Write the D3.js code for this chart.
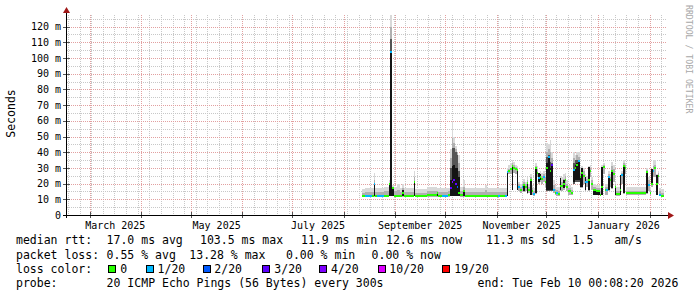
<!DOCTYPE html>
<html><head><meta charset="utf-8">
<script src="https://cdn.jsdelivr.net/npm/d3@7"></script>
<style>
body{margin:0;background:#fff}
svg{display:block}
text{font-family:"DejaVu Sans Mono",monospace;fill:#000}
</style>
</head><body>
<svg id="c" width="697" height="297"></svg>
<script>
// ---------------- data ----------------
const yTickValues = [0,10,20,30,40,50,60,70,80,90,100,110,120];
const yTickLabels = ["0","10 m","20 m","30 m","40 m","50 m","60 m","70 m","80 m","90 m","100 m","110 m","120 m"];
const yMinorValues = [5,15,25,35,45,55,65,75,85,95,105,115,125];
const xLabelMonths = ["2025-03","2025-05","2025-07","2025-09","2025-11","2026-01"];
const endTime = "2026-02-10 00:08:20";

const binStart = [
"2025-08-12","2025-08-14","2025-08-18","2025-08-19","2025-08-20","2025-08-21","2025-08-25","2025-08-28","2025-08-29","2025-08-30",
"2025-08-31","2025-09-02","2025-09-04","2025-09-05","2025-09-06","2025-09-12","2025-09-13","2025-09-20","2025-09-26","2025-09-27",
"2025-09-29","2025-10-03","2025-10-04","2025-10-05","2025-10-06","2025-10-07","2025-10-08","2025-10-09","2025-10-10","2025-10-12",
"2025-10-13","2025-10-25","2025-10-26","2025-11-02","2025-11-03","2025-11-06","2025-11-07","2025-11-08","2025-11-09","2025-11-10",
"2025-11-11","2025-11-12","2025-11-13","2025-11-14","2025-11-15","2025-11-16","2025-11-17","2025-11-18","2025-11-19","2025-11-20",
"2025-11-21","2025-11-22","2025-11-23","2025-11-24","2025-11-25","2025-11-26","2025-11-27","2025-11-28","2025-11-29","2025-11-30",
"2025-12-01","2025-12-02","2025-12-03","2025-12-04","2025-12-05","2025-12-06","2025-12-07","2025-12-08","2025-12-09","2025-12-10",
"2025-12-11","2025-12-12","2025-12-13","2025-12-14","2025-12-16","2025-12-17","2025-12-18","2025-12-19","2025-12-20","2025-12-21",
"2025-12-22","2025-12-23","2025-12-24","2025-12-25","2025-12-26","2025-12-27","2025-12-28","2025-12-29","2025-12-31","2026-01-02",
"2026-01-03","2026-01-04","2026-01-05","2026-01-06","2026-01-07","2026-01-08","2026-01-09","2026-01-10","2026-01-11","2026-01-12",
"2026-01-14","2026-01-15","2026-01-16","2026-01-17","2026-01-18","2026-01-30","2026-01-31","2026-02-01","2026-02-02","2026-02-03",
"2026-02-04","2026-02-05","2026-02-06","2026-02-07","2026-02-08"];

const medianMs = [
12.3,12.3,12.4,19.5,12.3,12.2,12.3,20,104,17,
12.4,12.4,12.4,14,12.3,21.2,12.3,12.5,14,12.3,
12.2,12.5,17,21,22,20,18,14,12.5,15.5,
12.4,12.4,12.4,12.3,12.3,12.4,27.6,28,29,31,
30,29,28.7,17.6,16,17.6,19.1,18,20.2,16,
22.3,15,13.4,29.7,27,23.4,24,22.7,24.4,21.2,
30,36.7,28,31.8,16,14,13.8,13.4,18.2,18.2,
20,22.3,18,15.3,14,28.7,30,32,34.6,24,
27,25,21.2,21.2,22,28.2,20,16,15.5,13,
18,30.8,16,16,24,22,28.2,26,17.6,13.4,
16,25.5,31.2,30,13.8,27.6,19.1,14,20,28.2,
29.7,20,24.9,13,12.2];

const lossCount = [
0,1,0,1,0,1,0,0,1,0,
0,0,0,0,0,0,0,0,0,0,
1,0,3,4,3,3,2,0,0,0,
0,0,0,1,0,1,1,0,0,0,
0,0,0,1,0,1,0,0,0,0,
0,0,1,0,0,1,0,0,1,0,
0,1,0,3,1,0,1,0,0,0,
0,0,0,0,0,1,0,0,1,0,
0,0,1,1,0,0,0,0,0,0,
0,0,0,1,1,0,0,0,0,0,
0,1,0,0,0,0,1,0,0,1,
0,0,0,1,0];

const smokeMin = [
11.6,11.6,11.7,11.7,11.6,11.6,11.6,11.8,11.8,11.8,
11.7,11.7,11.7,11.7,11.6,11.8,11.6,11.7,11.7,11.6,
11.6,11.7,11.8,11.8,11.8,11.8,11.8,11.8,11.7,11.7,
11.6,11.7,11.6,11.6,11.6,11.6,11.8,26,26,16,
27,26,16,15,14,15,14.5,15,13.5,14,
12.8,13,12,13.5,24,20,21,20,21,18,
15.5,15.5,15.5,15.5,14,12.5,12.3,12.2,15,15.5,
16,18,15,13,12.5,20,21,21,21,17,
17,20,15.5,18,15.5,24,16,12.5,12.5,12,
12.5,26,13,13,15.5,18,16.5,21,12.5,12.2,
12.5,20,13.5,26,12.5,13.5,15,12.5,18,24,
24,12.8,20,12,11.6];

const smokeMid = [
14,14.5,14.5,22,14.5,14.5,15,20.5,120,17.5,
15,16,14.5,17,14.5,24,14,15,15.5,14.5,
14.5,15,36,49,46,42,40,33,15,18,
14.5,16,14.5,14.5,14.5,14.5,28,29,30,33,
32,30.5,30,19.5,18,19.5,21,19.5,22,18,
24,17,15.5,31,29,25,26,25,26,24,
40,42,40,36,19,16.5,16,15.5,23,21,
23,25,20,17,16,36,35,38,37,27,
29,28,24,23,29,30,22,18,17,15,
26,32,18,18,26,24,31,29,19.5,15.5,
23,27,33,32,15.5,28.5,22,16,26,31,
32,24,26.5,15,14];

const smokeDeep = [
0,0,0,0,0,0,0,0,112,0,
0,0,0,0,0,0,0,0,0,0,
0,0,30,42.5,42.5,40,38,28,0,0,
0,0,0,0,0,0,0,0,0,0,
0,0,0,0,0,0,0,0,0,0,
0,0,0,0,0,0,0,0,0,0,
37,38,34,33,0,0,0,0,0,0,
0,0,0,0,0,33,35,35,35,0,
0,0,0,0,0,0,0,0,0,0,
0,0,0,0,0,0,0,0,0,0,
0,0,0,0,0,0,0,0,0,0,
0,0,0,0,0];

const smokeMax = [
16.5,17,17,26.6,17,17.5,18,22,127.5,19,
18,20,17,20,17,28,16.5,18,17,17.5,
17.5,17.5,42,60,50,44,40,38,18,22,
17.5,19,17.5,17.5,17.5,17.5,30,32,33,35,
34,32,31,21,20,21,23,21,24,20,
26,19,17,33,31,27,28,27,28,26,
45.6,45,47.8,40,22,19,18,18,25,24,
26,27,22,19,18,40.3,38,40.3,40,30,
31,30,26,25,31,32,24,20,19,17,
32,33,20,20,28,26,34,32,21,18,
25.5,28,35,33,17.6,30,24,18,29,35,
35,26,28,17,16.5];

const blackLo = [
0,0,0,11.8,0,0,0,12,12,12,
0,0,0,12,0,12,0,0,12,0,
0,0,12,12,12,12,12,12,0,12,
0,0,0,0,0,0,12,0,0,16,
0,0,16,0,0,0,15,0,14,0,
13,0,0,14,0,21,22,0,0,0,
16,16,16,16,0,0,0,0,16,0,
17,0,0,0,0,21,22,22,22,18,
18,0,16,0,16,0,0,13,13,0,
13,0,0,0,16,0,17,0,13,0,
13,0,14,0,0,14,0,0,19,0,
0,13,0,0,0];

const blackHi = [
0,0,0,19.5,0,0,0,20,104,17,
0,0,0,16,0,21.2,0,0,14.5,0,
0,0,22,31,32,30,30,24,0,15.5,
0,0,0,0,0,0,27.6,0,0,31,
0,0,28.7,0,0,0,19.1,0,20.2,0,
22.3,0,0,29.7,0,27,26,0,0,0,
33,36.7,30,31.8,0,0,0,0,23.4,0,
22,0,0,0,0,29,32,33,34.6,24,
29.7,0,24.4,0,30.8,0,0,16,15.5,0,
30.8,0,0,0,24.4,0,28.2,0,17.6,0,
25.5,0,31,0,0,27.6,0,0,29,0,
0,25.5,0,0,0];

const lossLevels = [0,1,2,3,4,10,19];
const lossLabels = ["0","1/20","2/20","3/20","4/20","10/20","19/20"];
const lossColors = ["#26ff00","#00b8ff","#0059ff","#5e00ff","#7e00ff","#dd00ff","#ff0000"];

const rttStats = ["17.0 ms avg","103.5 ms max","11.9 ms min","12.6 ms now","11.3 ms sd","1.5   am/s"];
const lossStats = ["0.55 % avg","13.28 % max","0.00 % min","0.00 % now"];
const probeText = "20 ICMP Echo Pings (56 Bytes) every 300s";
const endText = "end: Tue Feb 10 00:08:20 2026";

// ---------------- chart ----------------
const svg = d3.select("#c");
svg.append("rect").attr("width",697).attr("height",297).attr("fill","#fff");

const plotL = 67, plotR = 666, plotT = 15, plotB = 215;
const x = d3.scaleTime().domain([new Date(2025,2,1), new Date(2026,1,1)]).range([89.5,649.5]);
const y = d3.scaleLinear().domain([0,127.4]).range([plotB, plotT]);
const t0 = x.invert(plotL), t1 = x.invert(plotR);
const parseDay = d3.timeParse("%Y-%m-%d");
const parseEnd = d3.timeParse("%Y-%m-%d %H:%M:%S");
const parseMonth = d3.timeParse("%Y-%m");
const tEnd = parseEnd(endTime);

// grid
const grid = svg.append("g").attr("shape-rendering","crispEdges").attr("stroke-dasharray","1,1");
grid.selectAll(".hmin").data(yMinorValues.filter(v=>y(v)>=plotT)).join("line")
  .attr("x1",plotL).attr("x2",plotR).attr("y1",d=>Math.round(y(d))+0.5).attr("y2",d=>Math.round(y(d))+0.5)
  .attr("stroke","#c8c8c8");
grid.selectAll(".vmin").data(d3.timeSunday.range(t0,t1)).join("line")
  .attr("x1",d=>Math.round(x(d))+0.5).attr("x2",d=>Math.round(x(d))+0.5)
  .attr("y1",plotT).attr("y2",plotB).attr("stroke","#c8c8c8");
grid.selectAll(".hmaj").data(yTickValues.slice(1)).join("line")
  .attr("x1",plotL).attr("x2",plotR).attr("y1",d=>Math.round(y(d))+0.5).attr("y2",d=>Math.round(y(d))+0.5)
  .attr("stroke","#e2a0a0");
grid.selectAll(".vmaj").data(d3.timeMonth.range(t0,t1)).join("line")
  .attr("x1",d=>Math.round(x(d))+0.5).attr("x2",d=>Math.round(x(d))+0.5)
  .attr("y1",plotT).attr("y2",plotB).attr("stroke","#e2a0a0");

// data bins
const bins = binStart.map((s,i)=>{
  const a = parseDay(s);
  const b = i<binStart.length-1 ? parseDay(binStart[i+1]) : tEnd;
  let ci = 0; lossLevels.forEach((l,k)=>{ if(lossCount[i]>=l) ci=k; });
  return {x0:Math.round(x(a)), x1:Math.max(Math.round(x(b)),Math.round(x(a))+1),
    med:medianMs[i], col:lossColors[ci], lo:smokeMin[i], mid:smokeMid[i], deep:smokeDeep[i], hi:smokeMax[i],
    bLo:blackLo[i], bHi:blackHi[i]};
});
const dg = svg.append("g").attr("shape-rendering","crispEdges");
function band(cls, lo, hi, color){
  dg.selectAll("."+cls).data(bins.filter(d=>hi(d)>lo(d))).join("rect").attr("class",cls)
    .attr("x",d=>d.x0).attr("width",d=>d.x1-d.x0)
    .attr("y",d=>Math.round(y(Math.min(hi(d),127.4)))).attr("height",d=>Math.max(1,Math.round(y(lo(d)))-Math.round(y(Math.min(hi(d),127.4)))))
    .attr("fill",color);
}
band("smk",d=>d.lo,d=>d.hi,"#d9d9d9");
band("smm",d=>d.lo,d=>d.mid,"#b0b0b0");
band("smd",d=>d.lo,d=>d.deep,"#555555");
band("blk",d=>d.bLo,d=>d.bHi,"#141414");
dg.selectAll(".med").data(bins).join("rect")
  .attr("x",d=>d.x0).attr("width",d=>d.x1-d.x0)
  .attr("y",d=>Math.round(y(d.med))-1).attr("height",2)
  .attr("fill",d=>d.col);

// axes
const ax = svg.append("g").attr("shape-rendering","crispEdges");
ax.selectAll(".yt").data(yTickValues).join("line")
  .attr("x1",63).attr("x2",70).attr("y1",d=>Math.round(y(d))+0.5).attr("y2",d=>Math.round(y(d))+0.5)
  .attr("stroke","#555");
ax.selectAll(".xt").data(d3.timeMonth.range(t0,t1)).join("line")
  .attr("x1",d=>Math.round(x(d))+0.5).attr("x2",d=>Math.round(x(d))+0.5)
  .attr("y1",212).attr("y2",218).attr("stroke","#555");
ax.append("line").attr("x1",63).attr("x2",669).attr("y1",215.5).attr("y2",215.5).attr("stroke","#000");
ax.append("line").attr("x1",66.5).attr("x2",66.5).attr("y1",218).attr("y2",12).attr("stroke","#000");
svg.append("path").attr("d","M668,212L674,215.5L668,219Z").attr("fill","#a01818");
svg.append("path").attr("d","M63,13L66.5,7L70,13Z").attr("fill","#a01818");

// tick labels
svg.selectAll(".ylab").data(yTickValues).join("text")
  .attr("x",61).attr("y",d=>y(d)).attr("dy","0.36em").attr("text-anchor","end")
  .attr("font-size","10px").text((d,i)=>yTickLabels[i]);
const fmtMonth = d3.timeFormat("%B %Y");
svg.selectAll(".xlab").data(xLabelMonths.map(parseMonth)).join("text")
  .attr("x",d=>(x(d)+x(d3.timeMonth.offset(d,1)))/2).attr("y",228.5)
  .attr("text-anchor","middle").attr("font-size","10px").text(d=>fmtMonth(d));

// titles
svg.append("text").attr("transform","translate(15,113.5) rotate(-90)").attr("text-anchor","middle")
  .attr("font-size","11.5px").text("Seconds");
svg.append("text").attr("transform","translate(685.5,5) rotate(90)").attr("text-anchor","start")
  .attr("font-size","8.2px").style("fill","#a8a8a8").text("RRDTOOL / TOBI OETIKER");

// legend
const lg = svg.append("g").attr("font-size","11.5px");
const rows = [244.3, 258.6, 272.8, 287];
lg.append("text").attr("x",16).attr("y",rows[0]).text("median rtt:");
const rttX = [107.3,200.7,301.7,386.7,486.7,573.3];
rttStats.forEach((s,i)=>lg.append("text").attr("x",rttX[i]-0.7).attr("y",rows[0]).style("white-space","pre").text(s));
lg.append("text").attr("x",16).attr("y",rows[1]).text("packet loss:");
const lossX = [107.3,190,286.7,372.3];
lossStats.forEach((s,i)=>lg.append("text").attr("x",lossX[i]-0.7).attr("y",rows[1]).text(s));
lg.append("text").attr("x",16).attr("y",rows[2]).text("loss color:");
const sqX = [108.3,146,202.7,261.7,319.3,378.3,441.7];
const lbX = [121,158.3,215,275,331.7,390,455];
lossLabels.forEach((s,i)=>{
  lg.append("rect").attr("x",sqX[i]+0.5).attr("y",265.5).attr("width",7).attr("height",7)
    .attr("fill",lossColors[i]).attr("stroke","#000").attr("stroke-width",1).attr("shape-rendering","crispEdges");
  lg.append("text").attr("x",lbX[i]-0.7).attr("y",rows[2]).text(s);
});
lg.append("text").attr("x",16).attr("y",rows[3]).text("probe:");
lg.append("text").attr("x",106.6).attr("y",rows[3]).text(probeText);
lg.append("text").attr("x",477.6).attr("y",rows[3]).text(endText);
</script>
</body></html>
